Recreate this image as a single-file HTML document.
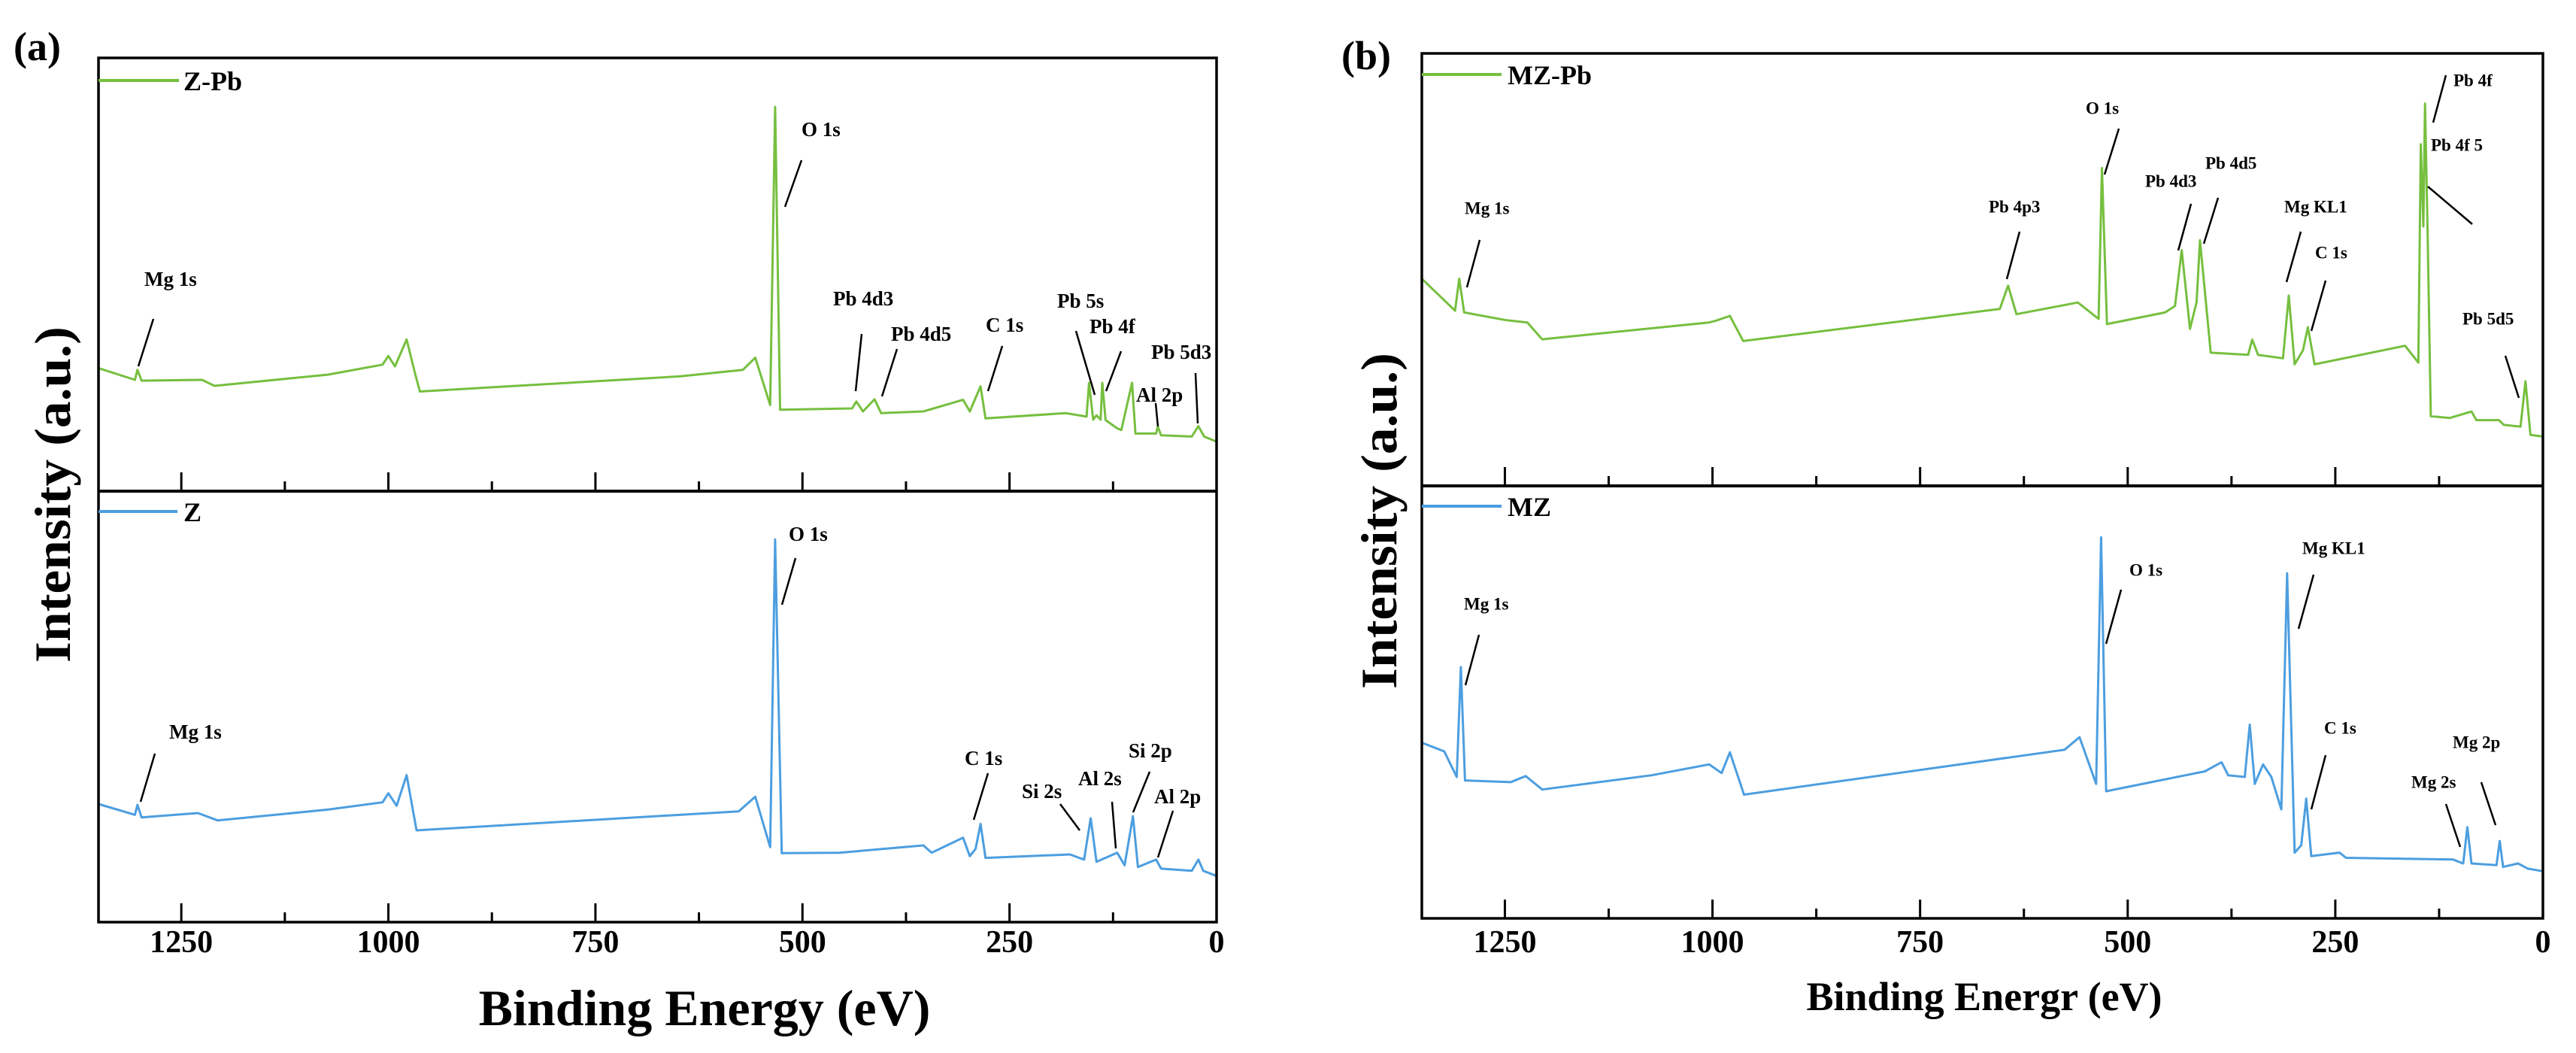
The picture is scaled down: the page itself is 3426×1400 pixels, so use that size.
<!DOCTYPE html>
<html><head><meta charset="utf-8"><style>
html,body{margin:0;padding:0;background:#fff;}
svg{display:block;font-family:"Liberation Serif",serif;font-weight:bold;}
</style></head><body>
<svg id="chart" width="3426" height="1400" viewBox="0 0 3426 1400" xmlns="http://www.w3.org/2000/svg">
<g id="layer"></g>
<g font-family="Liberation Serif, serif" font-weight="bold">
 <text x="18" y="80" font-size="54">(a)</text>
 <text x="1784" y="92" font-size="54">(b)</text>
 <text x="937" y="1363" font-size="68" text-anchor="middle">Binding Energy (eV)</text>
 <text x="2639" y="1343" font-size="54" text-anchor="middle">Binding Energr (eV)</text>
 <text transform="translate(93,881) rotate(-90)" font-size="68" textLength="447" lengthAdjust="spacingAndGlyphs">Intensity (a.u.)</text>
 <text transform="translate(1857,916) rotate(-90)" font-size="68" textLength="447" lengthAdjust="spacingAndGlyphs">Intensity (a.u.)</text>
 <g><line x1="131" y1="107" x2="238" y2="107" stroke="#76bf3f" stroke-width="4"></line><text x="244" y="120" font-size="36">Z-Pb</text></g>
 <g><line x1="131" y1="680" x2="236" y2="680" stroke="#4c9ee0" stroke-width="4"></line><text x="244" y="693" font-size="36">Z</text></g>
 <g><line x1="1891" y1="99" x2="1997" y2="99" stroke="#76bf3f" stroke-width="4"></line><text x="2005" y="112" font-size="36">MZ-Pb</text></g>
 <g><line x1="1891" y1="673" x2="1997" y2="673" stroke="#4c9ee0" stroke-width="4"></line><text x="2005" y="686" font-size="36">MZ</text></g>
</g>
<g stroke="#000" stroke-width="2.5">
 <line x1="1066" y1="213" x2="1044" y2="275"></line><line x1="204" y1="424" x2="184" y2="487"></line>
 <line x1="1146" y1="444" x2="1138" y2="520"></line><line x1="1193" y1="464" x2="1173" y2="527"></line>
 <line x1="1333" y1="460" x2="1314" y2="520"></line><line x1="1431" y1="440" x2="1456" y2="525"></line>
 <line x1="1491" y1="467" x2="1471" y2="520"></line><line x1="1590" y1="496" x2="1593" y2="563"></line>
 <line x1="1537" y1="536" x2="1540" y2="567"></line>
 <line x1="1058" y1="742" x2="1040" y2="804"></line><line x1="206" y1="1002" x2="187" y2="1066"></line>
 <line x1="1314" y1="1028" x2="1295" y2="1090"></line><line x1="1410" y1="1069" x2="1436" y2="1104"></line>
 <line x1="1479" y1="1066" x2="1484" y2="1128"></line><line x1="1529" y1="1026" x2="1507" y2="1080"></line>
 <line x1="1560" y1="1078" x2="1540" y2="1140"></line>
 <line x1="1968" y1="319" x2="1951" y2="382"></line><line x1="2686" y1="308" x2="2669" y2="371"></line>
 <line x1="2818" y1="171" x2="2799" y2="232"></line><line x1="2914" y1="271" x2="2897" y2="333"></line>
 <line x1="2950" y1="263" x2="2931" y2="324"></line><line x1="3060" y1="308" x2="3041" y2="375"></line>
 <line x1="3093" y1="373" x2="3074" y2="440"></line><line x1="3253" y1="100" x2="3236" y2="163"></line>
 <line x1="3229" y1="248" x2="3288" y2="298"></line><line x1="3332" y1="473" x2="3350" y2="529"></line>
 <line x1="1967" y1="844" x2="1949" y2="911"></line><line x1="2821" y1="784" x2="2801" y2="856"></line>
 <line x1="3077" y1="764" x2="3057" y2="836"></line><line x1="3093" y1="1004" x2="3074" y2="1076"></line>
 <line x1="3300" y1="1040" x2="3319" y2="1097"></line><line x1="3253" y1="1069" x2="3272" y2="1126"></line>
</g>
<g font-family="Liberation Serif, serif" font-weight="bold" font-size="27" dominant-baseline="central">
 <text x="1066" y="172">O 1s</text>
 <text x="192" y="371">Mg 1s</text>
 <text x="1108" y="397">Pb 4d3</text>
 <text x="1185" y="444">Pb 4d5</text>
 <text x="1311" y="432">C 1s</text>
 <text x="1406" y="400">Pb 5s</text>
 <text x="1449" y="434">Pb 4f</text>
 <text x="1531" y="468">Pb 5d3</text>
 <text x="1511" y="525">Al 2p</text>
 <text x="1049" y="710">O 1s</text>
 <text x="225" y="973">Mg 1s</text>
 <text x="1283" y="1008">C 1s</text>
 <text x="1359" y="1052">Si 2s</text>
 <text x="1434" y="1035">Al 2s</text>
 <text x="1501" y="998">Si 2p</text>
 <text x="1535" y="1059">Al 2p</text>
</g>
<g font-family="Liberation Serif, serif" font-weight="bold" font-size="23" dominant-baseline="central">
 <text x="1948" y="277">Mg 1s</text>
 <text x="2645" y="275">Pb 4p3</text>
 <text x="2774" y="144">O 1s</text>
 <text x="2853" y="241">Pb 4d3</text>
 <text x="2933" y="217">Pb 4d5</text>
 <text x="3038" y="275">Mg KL1</text>
 <text x="3079" y="336">C 1s</text>
 <text x="3263" y="107">Pb 4f</text>
 <text x="3233" y="193">Pb 4f 5</text>
 <text x="3275" y="424">Pb 5d5</text>
 <text x="1947" y="803">Mg 1s</text>
 <text x="2832" y="758">O 1s</text>
 <text x="3062" y="729">Mg KL1</text>
 <text x="3091" y="968">C 1s</text>
 <text x="3262" y="987">Mg 2p</text>
 <text x="3207" y="1040">Mg 2s</text>
</g>
</svg>
<script>
// ---- data (binding energy eV, relative intensity 0-100 of sub-panel) ----
const zpbEnergy = [1350,1306,1303,1298,1225,1210,1073,1007,1000,992,978,968,962,648,572,557,539,533,527,440,435,427,413,405,354,306,298,285,279,182,157,154,149,145,140,138,134,120,115,102,98,73,71,67,30,22,15,0];
const zpbInt    = [28.4,25.7,28,25.5,25.7,24.3,26.9,29.2,31.2,28.8,35,27.3,23,26.5,28,30.8,19.9,88.7,18.8,19.1,20.7,18.4,21.2,18,18.4,21.1,18.4,24.2,16.8,18,17.2,25,16.5,17.5,16.5,25,16.4,14.5,14.1,25,13.3,13.3,14.9,12.9,12.6,15,12.6,11.4];
const zEnergy = [1350,1306,1303,1298,1230,1206,1073,1007,1000,990,978,966,577,557,539,533,525,455,354,344,306,298,291,285,279,177,160,152,145,120,111,101,95,73,67,30,22,16,0];
const zInt    = [27.4,24.9,27.2,24.3,25.3,23.6,26.1,27.8,29.9,27,34.1,21.3,25.7,29.1,17.4,88.8,16,16.1,17.8,16.1,19.6,15.3,17,22.8,14.9,15.7,14.5,24.1,14,16.1,13.2,24.6,12.8,14.5,12.4,11.9,14.5,11.9,10.7];
const mzpbEnergy = [1350,1310,1305,1299,1248,1223,1205,1004,996,979,963,654,644,634,560,535,531,525,455,443,435,425,417,413,400,355,350,343,313,306,299,289,283,275,166,150,147,144,142,139,135,112,86,80,53,47,27,21,15,0];
const mzpbInt    = [47.9,40.5,47.9,40.1,38.3,37.8,33.9,37.8,38.2,39.3,33.5,40.9,46.3,39.7,42.4,38.6,73.5,37.4,40.1,41.6,54.5,36.3,42.5,56.8,30.8,30.3,33.8,30.3,29.5,44,28.1,31.3,36.7,28.1,32.4,28.5,79,60,88.4,60,16.1,15.7,17.2,15.2,15.2,14.1,13.7,24.2,11.8,11.4];
const mzEnergy = [1350,1323,1308,1303,1298,1243,1225,1205,1073,1004,989,979,962,576,558,538,532,526,407,387,379,359,353,347,337,327,315,308,299,291,285,279,245,237,108,96,91,86,56,52,48,30,18,0];
const mzInt    = [40.6,38.6,32.7,58.1,31.9,31.5,32.9,29.8,33.1,35.6,33.6,38.4,28.6,39,41.9,31.1,88.1,29.4,34,36.1,33.1,32.7,44.8,31.1,35.6,32.7,25.2,79.8,15.2,16.9,27.7,14.4,15.2,14,13.6,12.7,21.1,12.7,12.3,17.9,11.9,12.7,11.5,10.9];
const majorTicks = [1250,1000,750,500,250,0];
const minorTicks = [1125,875,625,375,125];
const tickLabels = ["1250","1000","750","500","250","0"];

const NS="http://www.w3.org/2000/svg";
const layer=document.getElementById('layer');
function mk(tag,attrs,parent){const e=document.createElementNS(NS,tag);for(const k in attrs)e.setAttribute(k,attrs[k]);(parent||layer).appendChild(e);return e;}
const GREEN="#76bf3f", BLUE="#4c9ee0";

const panels=[
 {x0:131,x1:1618,top:77,mid:653,bot:1226},
 {x0:1891,x1:3382,top:71,mid:646,bot:1221}
];
function xScale(p,e){return p.x1-(e/1350)*(p.x1-p.x0);}
function yScale(t,b,v){return b-(v/100)*(b-t);}

function drawSeries(p,t,b,E,I,color,name){
  let d='';
  for(let i=0;i<E.length;i++){d+=(i?'L':'M')+xScale(p,E[i]).toFixed(1)+' '+yScale(t,b,I[i]).toFixed(1);}
  const path=mk('path',{d:d,fill:'none',stroke:color,'stroke-width':3,'stroke-linejoin':'round'});
  
  
}
function drawTicks(p,y){
  majorTicks.forEach(v=>{const l=mk('line',{x1:xScale(p,v),x2:xScale(p,v),y1:y,y2:y-25,stroke:'#000','stroke-width':3});
    
    });
  minorTicks.forEach(v=>{const l=mk('line',{x1:xScale(p,v),x2:xScale(p,v),y1:y,y2:y-13,stroke:'#000','stroke-width':3});
    
    });
}
drawSeries(panels[0],panels[0].top,panels[0].mid,zpbEnergy,zpbInt,GREEN,'z-pb-spectrum');
drawSeries(panels[0],panels[0].mid,panels[0].bot,zEnergy,zInt,BLUE,'z-spectrum');
drawSeries(panels[1],panels[1].top,panels[1].mid,mzpbEnergy,mzpbInt,GREEN,'mz-pb-spectrum');
drawSeries(panels[1],panels[1].mid,panels[1].bot,mzEnergy,mzInt,BLUE,'mz-spectrum');

panels.forEach(p=>{
  const fr=mk('rect',{x:p.x0,y:p.top,width:p.x1-p.x0,height:p.bot-p.top,fill:'none',stroke:'#000','stroke-width':3.5});
  
  
  const dv=mk('line',{x1:p.x0,x2:p.x1,y1:p.mid,y2:p.mid,stroke:'#000','stroke-width':4});
  
  
  drawTicks(p,p.mid);
  drawTicks(p,p.bot);
  majorTicks.forEach((v,i)=>{const t=mk('text',{x:xScale(p,v),y:1266,'text-anchor':'middle','font-size':42});
    t.textContent=tickLabels[i];
    
    });
});
</script>
</body></html>
